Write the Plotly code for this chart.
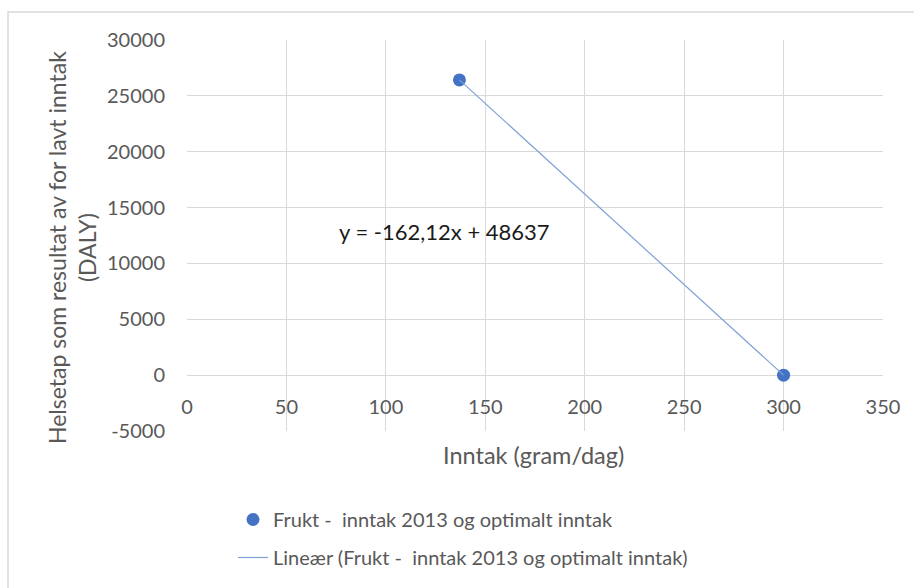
import numpy as np
import plotly.graph_objects as go

# Data
intake_x = [137, 300]          # Inntak (gram/dag)
daly_y = [26426, 0]            # Helsetap (DALY)
series_name = "Frukt -  inntak 2013 og optimalt inntak"
trend_name = "Lineær (Frukt -  inntak 2013 og optimalt inntak)"
x_ticks = [0, 50, 100, 150, 200, 250, 300, 350]
y_ticks = [-5000, 0, 5000, 10000, 15000, 20000, 25000, 30000]
y_tick_text = ["-5000", "0", "5000", "10000", "15000", "20000", "25000", "30000"]
eq_text = "y = -162,12x + 48637"

slope, intercept = np.polyfit(intake_x, daly_y, 1)
trend_x = [min(intake_x), max(intake_x)]
trend_y = [slope * v + intercept for v in trend_x]

FONT = "Lato, Carlito, Calibri, sans-serif"
GREY = "#595959"
GRID = "#d9d9d9"

fig = go.Figure()
fig.add_trace(go.Scatter(
    x=intake_x, y=daly_y, mode="markers", name=series_name,
    marker=dict(color="#4472c4", size=13), legendgroup="a"))
fig.add_trace(go.Scatter(
    x=trend_x, y=trend_y, mode="lines", name=trend_name,
    line=dict(color="#7fa0d6", width=1.2), legendgroup="b"))

W, H = 914, 588
L, R, T, B = 187, 31, 40, 157
pw, ph = W - L - R, H - T - B

def px(xpix):
    return (xpix - L) / pw

def py(ypix):
    return (H - B - ypix) / ph

fig.update_layout(
    width=W, height=H,
    margin=dict(l=L, r=R, t=T, b=B, autoexpand=False),
    paper_bgcolor="white", plot_bgcolor="white",
    font=dict(family=FONT, size=20, color=GREY),
    showlegend=True,
    legend=dict(x=px(233), y=py(500), xanchor="left", yanchor="top",
                traceorder="grouped", tracegroupgap=9,
                font=dict(size=20, color=GREY), bgcolor="rgba(0,0,0,0)"),
    xaxis=dict(range=[0, 350], tickvals=x_ticks, showgrid=True, gridcolor=GRID,
               gridwidth=1, zeroline=False, showline=False, ticks="",
               anchor="free", position=5000 / 35000, ticklabelstandoff=18,
               automargin=False, tickfont=dict(size=20, color=GREY)),
    yaxis=dict(range=[-5000, 30000], tickvals=y_ticks, ticktext=y_tick_text,
               showgrid=True, gridcolor=GRID,
               gridwidth=1, zeroline=True, zerolinecolor=GRID, zerolinewidth=1,
               showline=False, ticks="", ticklabelstandoff=21, automargin=False,
               tickfont=dict(size=20, color=GREY)),
)

# Chart area border (extends beyond the visible window right/bottom)
fig.add_shape(type="rect", xref="paper", yref="paper",
              x0=px(8), x1=px(960), y0=py(640), y1=py(12),
              line=dict(color=GRID, width=1.5), fillcolor="rgba(0,0,0,0)", layer="below")

# Axis titles
fig.add_annotation(text="Inntak (gram/dag)", xref="paper", yref="paper",
                   x=px(533), y=py(455), xanchor="center", yanchor="middle",
                   showarrow=False, font=dict(size=23.5, color=GREY))
fig.add_annotation(text="Helsetap som resultat av for lavt inntak<br>(DALY)",
                   xref="paper", yref="paper", align="center",
                   x=px(72), y=py(248), xanchor="center", yanchor="middle",
                   showarrow=False, textangle=-90, font=dict(size=23, color=GREY))

# Trendline equation
fig.add_annotation(text=eq_text, x=129.3, y=12830, xref="x", yref="y",
                   xanchor="center", yanchor="middle",
                   showarrow=False, font=dict(size=22, color="#1a1a1a"))

fig.write_html("out.html")
